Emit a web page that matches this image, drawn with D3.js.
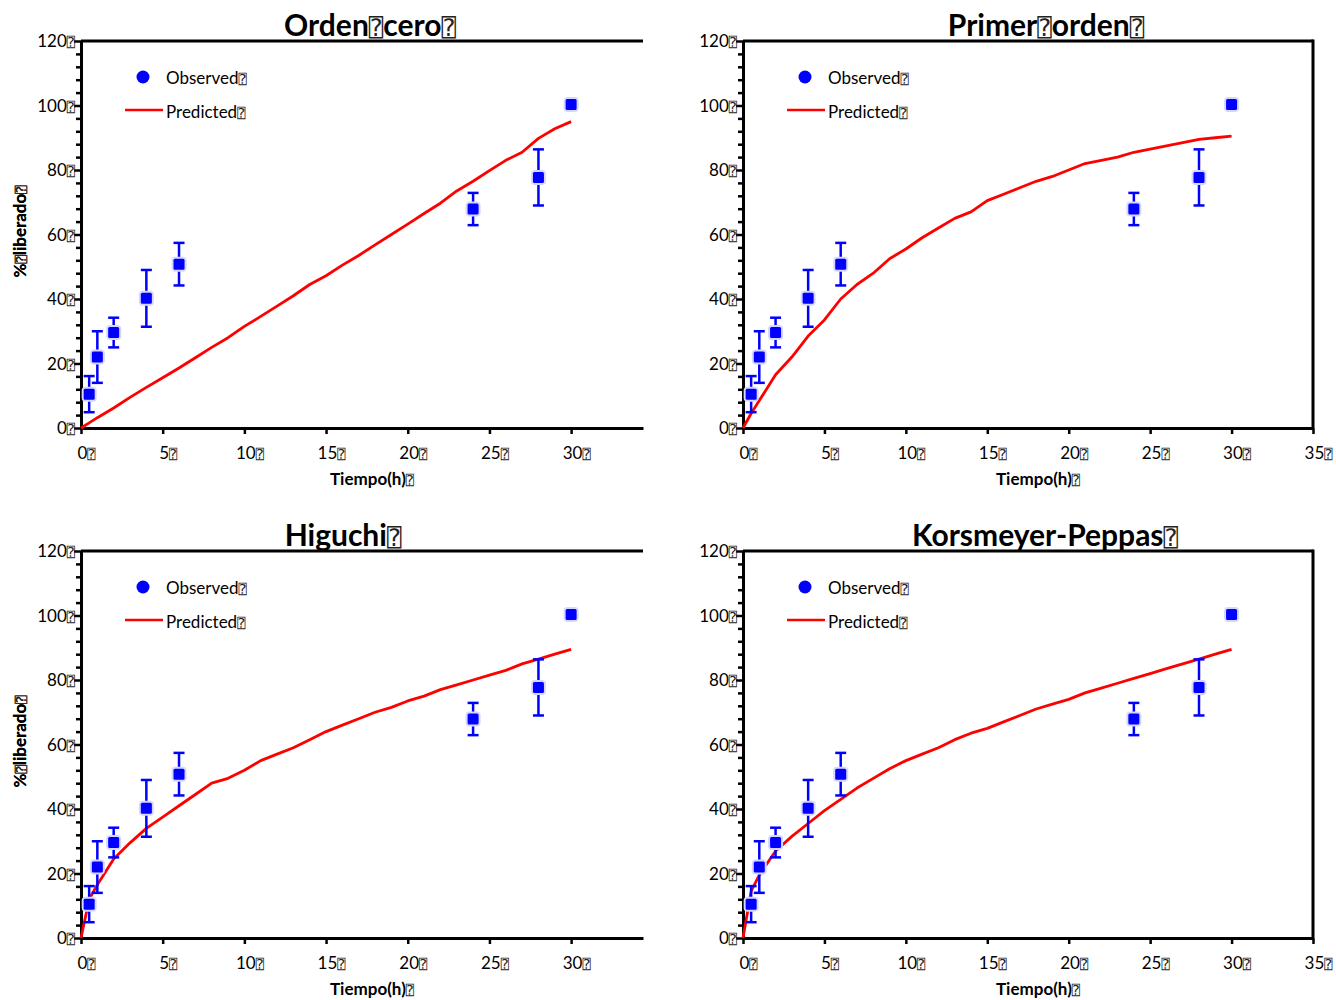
<!DOCTYPE html>
<html lang="es">
<head>
    <meta charset="UTF-8">
    <title>Cinetica de liberacion</title>
    <style>
        body { margin: 0; background: #fff; }
        text { font-family: Lato, "Open Sans", sans-serif; fill: #000; }
        .box { font-family: "DejaVu Sans Mono", "DejaVu Sans", monospace; fill: #222; }
    </style>
</head>
<body>
    <script src="https://cdn.jsdelivr.net/npm/d3@7"></script>
    <script>

        // data
        var times = [0.5, 1, 2, 4, 6, 24, 28, 30];
        var observed = [10.5, 22, 29.6, 40.2, 50.8, 67.9, 77.7, 100.3];
        var obsError = [5.6, 8, 4.6, 8.8, 6.6, 5, 8.7, 0.6];

        var predTimes = [0, 0.5, 1, 2, 3, 4, 5, 6, 7, 8, 9, 10, 11, 12, 13, 14, 15,
            16, 17, 18, 19, 20, 21, 22, 23, 24, 25, 26, 27, 28, 29, 30];
        var zeroOrder = [0, 1.6, 3.2, 6.2, 9.5, 12.6, 15.6, 18.6, 21.8, 25, 28, 31.5,
            34.6, 37.8, 41, 44.5, 47.2, 50.5, 53.5, 56.8, 60, 63.2, 66.5, 69.7, 73.5,
            76.5, 79.8, 83, 85.5, 89.8, 92.8, 95];
        var firstOrder = [0, 4.5, 8.5, 16.5, 22, 28.5, 33.5, 40, 44.5, 48, 52.5, 55.5,
            59, 62, 65, 67, 70.5, 72.5, 74.5, 76.5, 78, 80, 82, 83, 84, 85.5, 86.5,
            87.5, 88.5, 89.5, 90, 90.5];
        var higuchi = [0, 12, 16.5, 24.5, 29.5, 34, 37.5, 41, 44.5, 48, 49.5, 52,
            55, 57, 59, 61.5, 64, 66, 68, 70, 71.5, 73.5, 75, 77, 78.5, 80, 81.5, 83,
            85, 86.5, 88, 89.5];
        var peppas = [0, 14.5, 19.5, 27, 31.5, 35.5, 39.5, 43, 46.5, 49.5, 52.5, 55,
            57, 59, 61.5, 63.5, 65, 67, 69, 71, 72.5, 74, 76, 77.5, 79, 80.5, 82, 83.5,
            85, 86.5, 88, 89.5];

        var titles = ["Orden cero", "Primer orden", "Higuchi", "Korsmeyer-Peppas"];
        var yTicks = [0, 20, 40, 60, 80, 100, 120];
        var xTicksShort = [0, 5, 10, 15, 20, 25, 30];
        var xTicksLong = [0, 5, 10, 15, 20, 25, 30, 35];

        var BOX = "\u2370";

        var width = 1336,
            height = 1000;

        var panels = [
            { title: titles[0], pred: zeroOrder, left: 81, right: 643, top: 41, bottom: 428, xMax: 34.4, xt: xTicksShort, frame: false, tx: 370 },
            { title: titles[1], pred: firstOrder, left: 743, right: 1313, top: 41, bottom: 428, xMax: 35, xt: xTicksLong, frame: true, tx: 1046 },
            { title: titles[2], pred: higuchi, left: 81, right: 643, top: 551, bottom: 938, xMax: 34.4, xt: xTicksShort, frame: false, tx: 343 },
            { title: titles[3], pred: peppas, left: 743, right: 1313, top: 551, bottom: 938, xMax: 35, xt: xTicksLong, frame: true, tx: 1045 }
        ];

        var svg = d3.select("body").append("svg")
            .attr("width", width)
            .attr("height", height);

        // text with the little "missing glyph" boxes of the original
        function boxed(sel, parts) {
            parts.forEach(function(p) {
                sel.append("tspan").text(p);
                sel.append("tspan").attr("class", "box")
                    .style("font-size", "0.8em")
                    .style("font-weight", "normal")
                    .text(BOX);
            });
        }

        panels.forEach(function(p) {
            var g = svg.append("g");

            var x = d3.scaleLinear().domain([0, p.xMax]).range([p.left, p.right]);
            var y = d3.scaleLinear().domain([0, 120]).range([p.bottom, p.top]);

            // minor y ticks every 4
            g.append("g")
                .attr("transform", "translate(" + p.left + ",0)")
                .call(d3.axisLeft(y).tickValues(d3.range(0, 121, 4).filter(function(v) { return v % 20; }))
                    .tickSize(5).tickFormat(""))
                .call(function(a) {
                    a.select(".domain").remove();
                    a.selectAll("line").attr("stroke", "#000").attr("stroke-width", 2.5);
                });

            var ya = g.append("g")
                .attr("transform", "translate(" + p.left + ",0)")
                .call(d3.axisLeft(y).tickValues(yTicks).tickSize(7).tickSizeOuter(0).tickFormat(""));
            ya.select(".domain").attr("stroke-width", 3);
            ya.selectAll("line").attr("stroke-width", 2.5);
            ya.selectAll(".tick").each(function(d) {
                var t = d3.select(this).append("text")
                    .attr("x", -6).attr("dy", "0.35em")
                    .attr("text-anchor", "end")
                    .style("font-size", "17px");
                boxed(t, [String(d)]);
            });

            var xa = g.append("g")
                .attr("transform", "translate(0," + p.bottom + ")")
                .call(d3.axisBottom(x).tickValues(p.xt).tickSize(6).tickSizeOuter(0).tickFormat(""));
            xa.select(".domain").attr("stroke-width", 3);
            xa.selectAll("line").attr("stroke-width", 2.5);
            xa.selectAll(".tick").each(function(d) {
                var t = d3.select(this).append("text")
                    .attr("x", 5).attr("y", 31)
                    .attr("text-anchor", "middle")
                    .style("font-size", "17px");
                boxed(t, [String(d)]);
            });

            // top border, and right border for the right-hand panels
            g.append("line")
                .attr("x1", p.left).attr("x2", p.right)
                .attr("y1", p.top).attr("y2", p.top)
                .attr("stroke", "#000").attr("stroke-width", 3);
            if (p.frame) {
                g.append("line")
                    .attr("x1", p.right).attr("x2", p.right)
                    .attr("y1", p.top - 1.5).attr("y2", p.bottom)
                    .attr("stroke", "#000").attr("stroke-width", 3);
            }

            // title
            var tt = g.append("text")
                .attr("x", p.tx).attr("y", p.top - 5)
                .attr("text-anchor", "middle")
                .style("font-size", "30px").style("font-weight", "bold");
            boxed(tt, p.title.split(" "));

            // axis titles
            var xt = g.append("text")
                .attr("x", (p.left + p.right) / 2 + 10).attr("y", p.bottom + 57)
                .attr("text-anchor", "middle")
                .style("font-size", "17px").style("font-weight", "bold");
            boxed(xt, ["Tiempo(h)"]);

            var yt = g.append("text")
                .attr("transform", "translate(26," + ((p.top + p.bottom) / 2 - 3) + ") rotate(-90)")
                .attr("text-anchor", "middle")
                .style("font-size", "17px").style("font-weight", "bold");
            boxed(yt, ["%", "liberado"]);

            // predicted line
            var line = d3.line()
                .x(function(d, i) { return x(predTimes[i]); })
                .y(function(d) { return y(d); });
            g.append("path")
                .datum(p.pred)
                .attr("fill", "none")
                .attr("stroke", "#ff0000")
                .attr("stroke-width", 2.8)
                .attr("stroke-linejoin", "round")
                .attr("d", line);

            // observed with error bars
            var obs = g.selectAll(".obs")
                .data(observed)
                .enter().append("g")
                .attr("transform", function(d, i) { return "translate(" + x(times[i]) + ",0)"; });

            obs.append("line")
                .attr("y1", function(d, i) { return y(d - obsError[i]); })
                .attr("y2", function(d, i) { return y(d + obsError[i]); })
                .attr("stroke", "#0000ff").attr("stroke-width", 2.5);
            obs.append("line")
                .attr("x1", -5.5).attr("x2", 5.5)
                .attr("y1", function(d, i) { return y(d - obsError[i]); })
                .attr("y2", function(d, i) { return y(d - obsError[i]); })
                .attr("stroke", "#0000ff").attr("stroke-width", 2.5);
            obs.append("line")
                .attr("x1", -5.5).attr("x2", 5.5)
                .attr("y1", function(d, i) { return y(d + obsError[i]); })
                .attr("y2", function(d, i) { return y(d + obsError[i]); })
                .attr("stroke", "#0000ff").attr("stroke-width", 2.5);
            obs.append("rect")
                .attr("x", -7.5).attr("y", function(d) { return y(d) - 7.5; })
                .attr("width", 15).attr("height", 15).attr("rx", 4)
                .attr("fill", "#d6d6ff");
            obs.append("rect")
                .attr("x", -5.5).attr("y", function(d) { return y(d) - 5.5; })
                .attr("width", 11).attr("height", 11).attr("rx", 1.5)
                .attr("fill", "#0000ff");

            // legend
            var lx = p.left + 62;
            g.append("circle")
                .attr("cx", lx).attr("cy", p.top + 36).attr("r", 6.5)
                .attr("fill", "#0000ff");
            var l1 = g.append("text")
                .attr("x", lx + 23).attr("y", p.top + 43)
                .style("font-size", "17px");
            boxed(l1, ["Observed"]);
            g.append("line")
                .attr("x1", lx - 18).attr("x2", lx + 20)
                .attr("y1", p.top + 69).attr("y2", p.top + 69)
                .attr("stroke", "#ff0000").attr("stroke-width", 2.5);
            var l2 = g.append("text")
                .attr("x", lx + 23).attr("y", p.top + 77)
                .style("font-size", "17px");
            boxed(l2, ["Predicted"]);
        });

    </script>
</body>
</html>
